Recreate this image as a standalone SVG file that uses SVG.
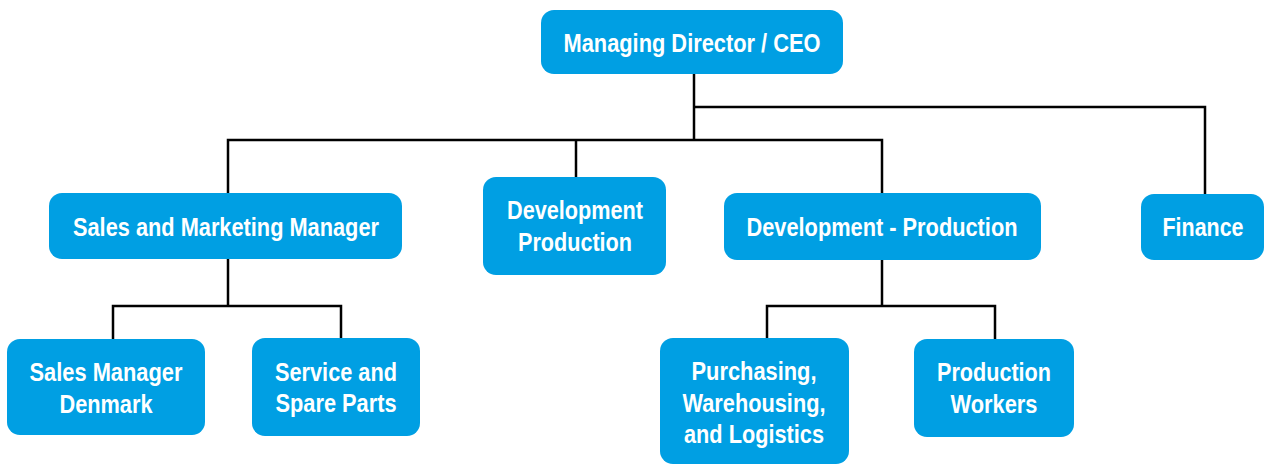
<svg xmlns="http://www.w3.org/2000/svg" width="1264" height="464" viewBox="0 0 1264 464">
<style>
.box{fill:#009FE3;}
.t{font-family:"Liberation Sans",Arial,sans-serif;font-weight:bold;font-size:25px;fill:#ffffff;text-anchor:middle;}
.c{fill:none;stroke:#000000;stroke-width:2.5;}
</style>
<rect width="1264" height="464" fill="#ffffff"/>
<g id="connectors">
<path class="c" d="M694,74 V140"/>
<path class="c" d="M694,107 H1205 V194"/>
<path class="c" d="M228,193 V140 H882 V193"/>
<path class="c" d="M576,140 V177"/>
<path class="c" d="M228,259 V305"/>
<path class="c" d="M113,339 V306 H341 V338"/>
<path class="c" d="M882,259 V305"/>
<path class="c" d="M767,338 V306 H995 V339"/>
</g>
<g id="ceo">
<rect class="box" x="541" y="10" width="302" height="64" rx="13"/>
<text class="t" x="692" y="52" textLength="257" lengthAdjust="spacingAndGlyphs">Managing Director / CEO</text>
</g>
<g id="sales-marketing">
<rect class="box" x="49" y="193" width="353" height="66" rx="13"/>
<text class="t" x="226" y="236" textLength="306" lengthAdjust="spacingAndGlyphs">Sales and Marketing Manager</text>
</g>
<g id="development-production-1">
<rect class="box" x="483" y="177" width="183" height="98" rx="13"/>
<text class="t" x="575" y="219" textLength="136" lengthAdjust="spacingAndGlyphs">Development</text>
<text class="t" x="575" y="251" textLength="114" lengthAdjust="spacingAndGlyphs">Production</text>
</g>
<g id="development-production-2">
<rect class="box" x="724" y="193" width="317" height="67" rx="13"/>
<text class="t" x="882" y="236" textLength="271" lengthAdjust="spacingAndGlyphs">Development - Production</text>
</g>
<g id="finance">
<rect class="box" x="1141" y="194" width="123" height="66" rx="13"/>
<text class="t" x="1203" y="236" textLength="81" lengthAdjust="spacingAndGlyphs">Finance</text>
</g>
<g id="sales-manager-denmark">
<rect class="box" x="7" y="339" width="198" height="96" rx="13"/>
<text class="t" x="106" y="381" textLength="153" lengthAdjust="spacingAndGlyphs">Sales Manager</text>
<text class="t" x="106" y="413" textLength="93" lengthAdjust="spacingAndGlyphs">Denmark</text>
</g>
<g id="service-spare-parts">
<rect class="box" x="252" y="338" width="168" height="98" rx="13"/>
<text class="t" x="336" y="381" textLength="122" lengthAdjust="spacingAndGlyphs">Service and</text>
<text class="t" x="336" y="412" textLength="121" lengthAdjust="spacingAndGlyphs">Spare Parts</text>
</g>
<g id="purchasing">
<rect class="box" x="660" y="338" width="189" height="126" rx="13"/>
<text class="t" x="754" y="380" textLength="125" lengthAdjust="spacingAndGlyphs">Purchasing,</text>
<text class="t" x="754" y="412" textLength="143" lengthAdjust="spacingAndGlyphs">Warehousing,</text>
<text class="t" x="754" y="443" textLength="140" lengthAdjust="spacingAndGlyphs">and Logistics</text>
</g>
<g id="production-workers">
<rect class="box" x="914" y="339" width="160" height="98" rx="13"/>
<text class="t" x="994" y="381" textLength="114" lengthAdjust="spacingAndGlyphs">Production</text>
<text class="t" x="994" y="413" textLength="87" lengthAdjust="spacingAndGlyphs">Workers</text>
</g>
</svg>
